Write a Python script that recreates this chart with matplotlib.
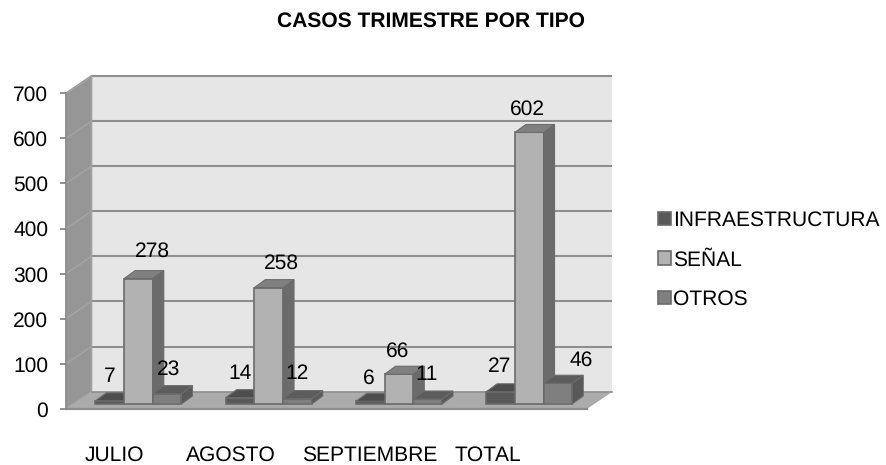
import numpy as np
import matplotlib
matplotlib.use("Agg")
import matplotlib.pyplot as plt
from matplotlib.patches import Polygon, Patch
from matplotlib.transforms import Affine2D

plt.rcParams["font.family"] = ["Liberation Sans", "DejaVu Sans"]
plt.rcParams["text.hinting"] = "no_hinting"
plt.rcParams["text.hinting_factor"] = 1

### Data
meses = ["JULIO", "AGOSTO", "SEPTIEMBRE", "TOTAL"]
infraestructura = [7, 14, 6, 27]
senal = [278, 258, 66, 602]
otros = [23, 12, 11, 46]
y_ticks = [0, 100, 200, 300, 400, 500, 600, 700]
nombres = ["INFRAESTRUCTURA", "SEÑAL", "OTROS"]

### Style
W, H = 887, 465
colors_front = ["#595959", "#b2b2b2", "#7f7f7f"]
colors_side = ["#4a4a4a", "#6b6b6b", "#595959"]
colors_top = ["#4d4d4d", "#808080", "#5c5c5c"]
edge = "#6b6b6b"
grid_color = "#8f8f8f"

# label offsets from the bar top, px
label_dx = [[0, 14, 1], [0, 13, 0], [-1, -1, -1], [-1, -2, 23]]
label_dy = [[24, 27, 24], [24, 24, 25], [23, 23, 24], [25, 23.5, 23]]
mes_pos = [-0.128, 0.763, 1.834, 2.736]

fig = plt.figure(figsize=(W / 100, H / 100), dpi=100)
ax = fig.add_axes([66 / W, 1 - 409 / H, 521 / W, (409 - 93.3) / H])
ax.set_xlim(-0.5, 3.5)
ax.set_ylim(0, 700)
ax.patch.set_visible(False)
for s in ax.spines.values():
    s.set_visible(False)

px_x = 521 / 4
px_y = (409 - 93.3) / 700

## Walls and floor
dx = 25.5 / px_x
dy = 17.4 / px_y
x0, x1 = -0.5, 3.5
ax.add_patch(Polygon([(x0 + dx, dy), (x1 + dx, dy), (x1 + dx, 700 + dy), (x0 + dx, 700 + dy)],
                     fc="#e6e6e6", ec="none", clip_on=False, zorder=1))
ax.add_patch(Polygon([(x0, 0), (x0 + dx, dy), (x0 + dx, 700 + dy), (x0, 700)],
                     fc="#969696", ec="#a3a3a3", lw=1.2, clip_on=False, zorder=1.1))
ax.add_patch(Polygon([(x0, 0), (x1, 0), (x1 + dx, dy), (x0 + dx, dy)],
                     fc="#ababab", ec="none", clip_on=False, zorder=1.1))
for v in y_ticks:
    if v > 0:
        ax.plot([x0 + dx, x1 + dx], [v + dy, v + dy], color=grid_color, lw=1.5, clip_on=False, zorder=1.2, solid_capstyle="butt")
        ax.plot([x0, x0 + dx], [v, v + dy], color="#a3a3a3", lw=1.2, clip_on=False, zorder=1.2)
ax.plot([x0, x1], [0, 0], color="#8c8c8c", lw=1.6, clip_on=False, zorder=1.3)
ax.plot([x0 + dx, x1 + dx], [dy, dy], color="#909090", lw=1.2, clip_on=False, zorder=1.2)
ax.plot([x0, x0], [0, 700], color="#8c8c8c", lw=1.2, clip_on=False, zorder=1.3)

## Bars
bar_tr = ax.transData + Affine2D().translate(7.3, 5)
w = 28.7 / px_x
ddx = 11 / px_x
ddy = 8 / px_y
series = [infraestructura, senal, otros]
z = 3
for g in range(len(meses)):
    for i, vals in enumerate(series):
        v = vals[g]
        left = g + (i - 1) * w - w / 2
        right = left + w
        ax.bar(left, v, width=w, align="edge", color=colors_front[i], edgecolor=edge, lw=1.2,
               transform=bar_tr, clip_on=False, zorder=z)
        ax.add_patch(Polygon([(right, 0), (right + ddx, ddy), (right + ddx, v + ddy), (right, v)],
                             fc=colors_side[i], ec=edge, lw=0.8, transform=bar_tr, clip_on=False, zorder=z))
        ax.add_patch(Polygon([(left, v), (right, v), (right + ddx, v + ddy), (left + ddx, v + ddy)],
                             fc=colors_top[i], ec=edge, lw=0.8, transform=bar_tr, clip_on=False, zorder=z))
        z += 0.1

## Value labels
for g in range(len(meses)):
    for i, vals in enumerate(series):
        v = vals[g]
        xc = g + (i - 1) * w
        ax.annotate(str(v), xy=(xc, v), xycoords=bar_tr,
                    xytext=(label_dx[g][i] * 0.72, label_dy[g][i] * 0.72), textcoords="offset points",
                    ha="center", va="center", fontsize=15.2, color="black", zorder=20)

## Axes text
ax.set_yticks(y_ticks)
ax.set_yticklabels([str(v) for v in y_ticks], fontsize=15.2)
ax.tick_params(axis="y", length=4.3, width=1.2, color="#808080", pad=8.6)
ax.set_xticks(mes_pos)
ax.set_xticklabels(meses, fontsize=15.2)
ax.tick_params(axis="x", length=0, pad=26)

fig.text(431 / W, 1 - 21 / H, "CASOS TRIMESTRE POR TIPO", ha="center", va="center",
         fontsize=15.3, fontweight="bold", color="black")

handles = [Patch(fc=colors_front[i], ec=edge, lw=1.2) for i in range(3)]
fig.legend(handles, nombres, loc="center left", bbox_to_anchor=(658 / W, 1 - 260 / H),
           frameon=False, fontsize=15.2, borderpad=0, borderaxespad=0,
           handlelength=0.6, handleheight=0.6, handletextpad=0.12, labelspacing=0.95)

plt.savefig("out.png", dpi=100)
